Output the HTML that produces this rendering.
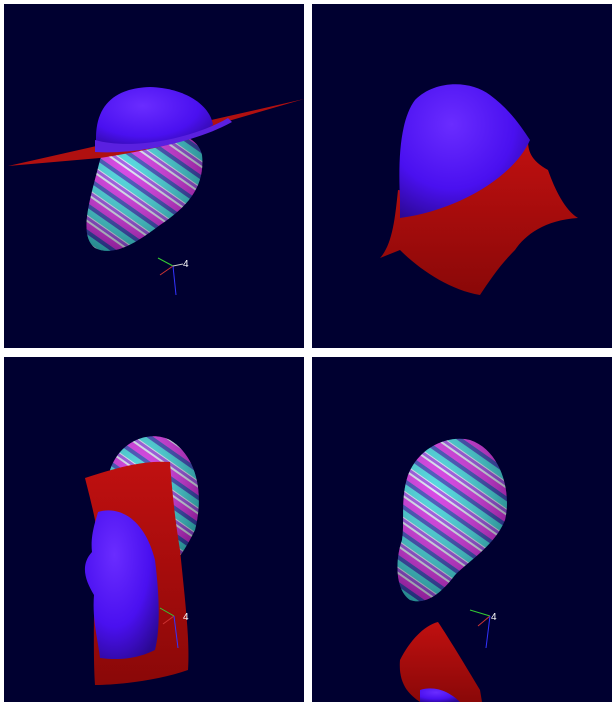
<!DOCTYPE html>
<html><head><meta charset="utf-8"><style>
html,body{margin:0;padding:0;background:#fff;width:616px;height:706px;overflow:hidden}
svg{display:block}
</style></head><body>
<svg width="616" height="706" viewBox="0 0 616 706">
<defs>
<radialGradient id="blue" cx="0.4" cy="0.3" r="0.8"><stop offset="0" stop-color="#6a2cff"/><stop offset="0.6" stop-color="#4a10f0"/><stop offset="1" stop-color="#2a0890"/></radialGradient>
<linearGradient id="red" x1="0" y1="0" x2="0" y2="1"><stop offset="0" stop-color="#c01010"/><stop offset="1" stop-color="#8a0808"/></linearGradient>
<pattern id="stripes" width="22" height="22" patternUnits="userSpaceOnUse" patternTransform="rotate(35)">
<rect width="22" height="22" fill="#d8e0f0"/>
<rect y="0" width="22" height="6" fill="#d020e0"/>
<rect y="6" width="22" height="4" fill="#2838b0"/>
<rect y="10" width="22" height="6" fill="#30d0d8"/>
<rect y="17" width="22" height="3" fill="#9040e0"/>
</pattern>
<radialGradient id="shade" cx="0.35" cy="0.3" r="0.8"><stop offset="0" stop-color="#fff" stop-opacity="0.2"/><stop offset="1" stop-color="#000" stop-opacity="0.4"/></radialGradient>
</defs>
<rect x="4" y="4" width="300" height="344" fill="#000030"/>
<rect x="312" y="4" width="300" height="344" fill="#000030"/>
<rect x="4" y="357" width="300" height="345" fill="#000030"/>
<rect x="312" y="357" width="300" height="345" fill="#000030"/>

<g>
<path d="M100,160 C90,200 78,235 95,248 C115,258 140,240 160,225 C190,205 205,185 202,155 C198,135 170,128 140,132 C115,138 105,145 100,160Z" fill="url(#stripes)"/>
<path d="M100,160 C90,200 78,235 95,248 C115,258 140,240 160,225 C190,205 205,185 202,155 C198,135 170,128 140,132 C115,138 105,145 100,160Z" fill="url(#shade)"/>
<path d="M8,166 L304,99 L225,122 C200,140 150,150 100,158 Z" fill="#b01010"/>
<path d="M96,138 C96,105 115,88 150,87 C185,88 210,105 213,125 C190,140 130,152 96,150 Z" fill="url(#blue)"/>
<path d="M95,140 C130,150 190,140 228,118 L232,122 C200,140 140,155 95,152Z" fill="#5a20e0"/>
<g stroke-width="1"><line x1="173" y1="266" x2="158" y2="258" stroke="#3c3"/><line x1="173" y1="266" x2="160" y2="275" stroke="#c33"/><line x1="173" y1="266" x2="176" y2="295" stroke="#33f"/><line x1="173" y1="266" x2="183" y2="264" stroke="#ccc"/></g>
<text x="183" y="267" font-family="Liberation Sans, sans-serif" font-size="10" fill="#fff">4</text>
</g>

<g>
<path d="M398,190 C395,220 392,245 380,258 L400,250 C420,270 450,290 480,295 C490,280 500,265 515,250 C525,235 545,220 578,218 C565,210 555,190 548,170 C530,160 528,150 528,140 C500,170 460,200 398,190Z" fill="url(#red)"/>
<path d="M400,200 C398,160 400,120 415,100 C435,80 470,80 490,95 C510,110 520,125 530,140 C515,175 460,210 400,218Z" fill="url(#blue)"/>
</g>

<g>
<path d="M110,470 C120,440 150,430 170,440 C195,455 205,490 195,530 C180,560 170,570 160,570 Z" fill="url(#stripes)"/>
<path d="M110,470 C120,440 150,430 170,440 C195,455 205,490 195,530 C180,560 170,570 160,570 Z" fill="url(#shade)"/>
<path d="M85,478 C110,470 140,460 170,462 C172,490 175,520 180,550 C185,600 190,640 188,670 C160,680 120,685 95,685 C92,640 96,560 95,520 C92,505 88,490 85,478Z" fill="url(#red)"/>
<path d="M98,512 C120,505 145,520 155,560 C160,600 160,630 155,650 C135,660 115,660 100,658 C98,640 92,620 94,595 C85,580 80,565 92,552 C90,535 96,520 98,512Z" fill="url(#blue)"/>
<g stroke-width="1"><line x1="174" y1="616" x2="160" y2="608" stroke="#3c3"/><line x1="174" y1="616" x2="163" y2="624" stroke="#c33"/><line x1="174" y1="616" x2="178" y2="648" stroke="#33f"/></g>
<text x="183" y="620" font-family="Liberation Sans, sans-serif" font-size="10" fill="#fff">4</text>
</g>

<g>
<path d="M408,475 C420,445 450,435 470,440 C500,450 512,490 505,520 C495,545 470,560 455,575 C440,595 425,605 410,600 C395,590 395,560 402,540 C405,520 400,500 408,475Z" fill="url(#stripes)"/>
<path d="M408,475 C420,445 450,435 470,440 C500,450 512,490 505,520 C495,545 470,560 455,575 C440,595 425,605 410,600 C395,590 395,560 402,540 C405,520 400,500 408,475Z" fill="url(#shade)"/>
<path d="M400,660 C410,640 425,625 438,622 C450,640 465,665 480,690 L482,702 L420,702 C410,695 398,685 400,660Z" fill="url(#red)"/>
<path d="M420,690 C435,685 450,692 460,702 L420,702Z" fill="url(#blue)"/>
<g stroke-width="1"><line x1="490" y1="616" x2="470" y2="610" stroke="#3c3"/><line x1="490" y1="616" x2="478" y2="626" stroke="#c33"/><line x1="490" y1="616" x2="486" y2="648" stroke="#33f"/></g>
<text x="491" y="620" font-family="Liberation Sans, sans-serif" font-size="10" fill="#fff">4</text>
</g>
</svg>
</body></html>
